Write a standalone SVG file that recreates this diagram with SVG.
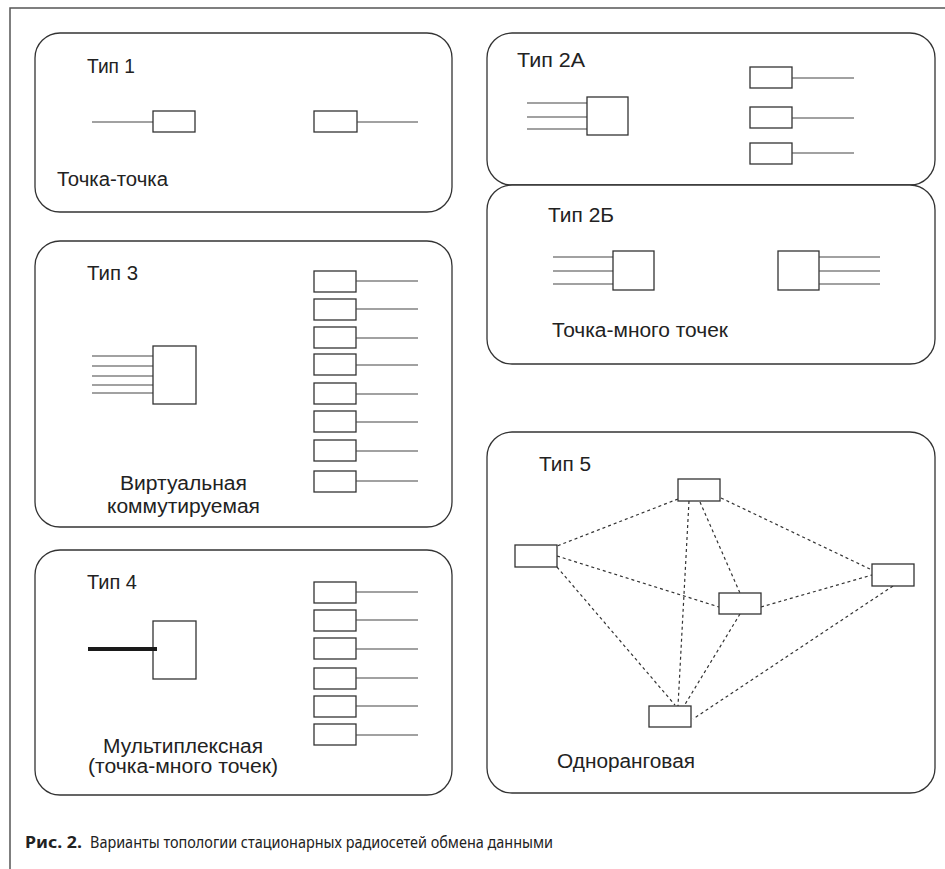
<svg xmlns="http://www.w3.org/2000/svg" width="945" height="869" viewBox="0 0 945 869">
<style>
.frame{fill:none;stroke:#555;stroke-width:1.5}
.panel{fill:#fff;stroke:#333;stroke-width:1.3}
.dev{fill:#fff;stroke:#333;stroke-width:1.3}
.ln{stroke:#444;stroke-width:1.2;fill:none}
.thick{stroke:#1a1a1a;stroke-width:4;fill:none}
.dot{stroke:#333;stroke-width:1.2;stroke-dasharray:3 3;fill:none}
.t{font-family:"Liberation Sans",Arial,sans-serif;font-size:20px;fill:#222}
.cap{font-family:"Noto Sans","Open Sans",sans-serif;font-size:15.5px;fill:#222}
</style>
<rect width="945" height="869" fill="#fff"/>
<path class="frame" d="M945,8 H10 V869"/>

<g id="type1">
<rect class="panel" x="35" y="33" width="417" height="179" rx="25"/>
<text class="t" x="87" y="73" textLength="48" lengthAdjust="spacingAndGlyphs">Тип 1</text>
<line class="ln" x1="92" y1="122" x2="153" y2="122"/>
<rect class="dev" x="153" y="111" width="42" height="21"/>
<rect class="dev" x="314" y="111" width="43" height="21"/>
<line class="ln" x1="357" y1="122" x2="418" y2="122"/>
<text class="t" x="57" y="186" textLength="111" lengthAdjust="spacingAndGlyphs">Точка-точка</text>
</g>

<g id="type2a">
<rect class="panel" x="487" y="33" width="448" height="152" rx="25"/>
<text class="t" x="517" y="67" textLength="68" lengthAdjust="spacingAndGlyphs">Тип 2А</text>
<line class="ln" x1="527" y1="103" x2="587" y2="103"/>
<line class="ln" x1="527" y1="117" x2="587" y2="117"/>
<line class="ln" x1="527" y1="129" x2="587" y2="129"/>
<rect class="dev" x="587" y="97" width="41" height="38"/>
<rect class="dev" x="750" y="67" width="42" height="21"/>
<rect class="dev" x="750" y="107" width="42" height="21"/>
<rect class="dev" x="750" y="143" width="42" height="21"/>
<line class="ln" x1="792" y1="78" x2="854" y2="78"/>
<line class="ln" x1="792" y1="118" x2="854" y2="118"/>
<line class="ln" x1="792" y1="153" x2="854" y2="153"/>
</g>

<g id="type2b">
<rect class="panel" x="487" y="185" width="448" height="179" rx="25"/>
<text class="t" x="548" y="222" textLength="66" lengthAdjust="spacingAndGlyphs">Тип 2Б</text>
<line class="ln" x1="553" y1="257" x2="613" y2="257"/>
<line class="ln" x1="553" y1="271" x2="613" y2="271"/>
<line class="ln" x1="553" y1="284" x2="613" y2="284"/>
<rect class="dev" x="613" y="251" width="41" height="39"/>
<rect class="dev" x="778" y="251" width="41" height="39"/>
<line class="ln" x1="819" y1="257" x2="880" y2="257"/>
<line class="ln" x1="819" y1="271" x2="880" y2="271"/>
<line class="ln" x1="819" y1="284" x2="880" y2="284"/>
<text class="t" x="552" y="337" textLength="176" lengthAdjust="spacingAndGlyphs">Точка-много точек</text>
</g>

<g id="type3">
<rect class="panel" x="35" y="241" width="417" height="286" rx="25"/>
<text class="t" x="87" y="280" textLength="51" lengthAdjust="spacingAndGlyphs">Тип 3</text>
<line class="ln" x1="92" y1="356" x2="153" y2="356"/>
<line class="ln" x1="92" y1="366" x2="153" y2="366"/>
<line class="ln" x1="92" y1="376" x2="153" y2="376"/>
<line class="ln" x1="92" y1="385" x2="153" y2="385"/>
<line class="ln" x1="92" y1="393" x2="153" y2="393"/>
<rect class="dev" x="153" y="346" width="43" height="58"/>
<rect class="dev" x="314" y="271" width="42" height="21"/>
<rect class="dev" x="314" y="299" width="42" height="21"/>
<rect class="dev" x="314" y="327" width="42" height="21"/>
<rect class="dev" x="314" y="354" width="42" height="21"/>
<rect class="dev" x="314" y="383" width="42" height="21"/>
<rect class="dev" x="314" y="411" width="42" height="21"/>
<rect class="dev" x="314" y="440" width="42" height="21"/>
<rect class="dev" x="314" y="471" width="42" height="21"/>
<line class="ln" x1="356" y1="281" x2="418" y2="281"/>
<line class="ln" x1="356" y1="309" x2="418" y2="309"/>
<line class="ln" x1="356" y1="338" x2="418" y2="338"/>
<line class="ln" x1="356" y1="365" x2="418" y2="365"/>
<line class="ln" x1="356" y1="394" x2="418" y2="394"/>
<line class="ln" x1="356" y1="422" x2="418" y2="422"/>
<line class="ln" x1="356" y1="451" x2="418" y2="451"/>
<line class="ln" x1="356" y1="481" x2="418" y2="481"/>
<text class="t" x="120" y="490" textLength="127" lengthAdjust="spacingAndGlyphs">Виртуальная</text>
<text class="t" x="107" y="513" textLength="153" lengthAdjust="spacingAndGlyphs">коммутируемая</text>
</g>

<g id="type4">
<rect class="panel" x="35" y="550" width="417" height="245" rx="25"/>
<text class="t" x="87" y="589" textLength="50" lengthAdjust="spacingAndGlyphs">Тип 4</text>
<rect class="dev" x="153" y="621" width="43" height="58"/>
<line class="thick" x1="88" y1="649" x2="157" y2="649"/>
<rect class="dev" x="314" y="582" width="42" height="21"/>
<rect class="dev" x="314" y="610" width="42" height="21"/>
<rect class="dev" x="314" y="638" width="42" height="21"/>
<rect class="dev" x="314" y="668" width="42" height="21"/>
<rect class="dev" x="314" y="696" width="42" height="21"/>
<rect class="dev" x="314" y="724" width="42" height="21"/>
<line class="ln" x1="356" y1="592" x2="418" y2="592"/>
<line class="ln" x1="356" y1="620" x2="418" y2="620"/>
<line class="ln" x1="356" y1="649" x2="418" y2="649"/>
<line class="ln" x1="356" y1="678" x2="418" y2="678"/>
<line class="ln" x1="356" y1="706" x2="418" y2="706"/>
<line class="ln" x1="356" y1="735" x2="418" y2="735"/>
<text class="t" x="103" y="753" textLength="160" lengthAdjust="spacingAndGlyphs">Мультиплексная</text>
<text class="t" x="88" y="773" textLength="190" lengthAdjust="spacingAndGlyphs">(точка-много точек)</text>
</g>

<g id="type5">
<rect class="panel" x="487" y="432" width="448" height="361" rx="25"/>
<text class="t" x="539" y="471" textLength="52" lengthAdjust="spacingAndGlyphs">Тип 5</text>
<text class="t" x="557" y="768" textLength="138" lengthAdjust="spacingAndGlyphs">Одноранговая</text>
</g>

<g id="connectors">
<line class="dot" x1="678" y1="499" x2="557" y2="546"/>
<line class="dot" x1="689" y1="501" x2="678" y2="706"/>
<line class="dot" x1="700" y1="502" x2="740" y2="593"/>
<line class="dot" x1="721" y1="498" x2="872" y2="570"/>
<line class="dot" x1="557" y1="556" x2="719" y2="607"/>
<line class="dot" x1="557" y1="567" x2="675" y2="705"/>
<line class="dot" x1="740" y1="614" x2="684" y2="706"/>
<line class="dot" x1="761" y1="607" x2="872" y2="575"/>
<line class="dot" x1="893" y1="586" x2="693" y2="719"/>
</g>

<g id="p5-top"><rect class="dev" x="678" y="479" width="42" height="22"/></g>
<g id="p5-left"><rect class="dev" x="515" y="545" width="42" height="22"/></g>
<g id="p5-right"><rect class="dev" x="872" y="564" width="42" height="22"/></g>
<g id="p5-mid"><rect class="dev" x="719" y="593" width="42" height="21"/></g>
<g id="p5-bottom"><rect class="dev" x="649" y="706" width="42" height="21"/></g>

<g id="caption">
<text class="cap" x="25" y="848" font-weight="bold" textLength="57" lengthAdjust="spacingAndGlyphs">Рис. 2.</text>
<text class="cap" x="90" y="848" textLength="463" lengthAdjust="spacingAndGlyphs">Варианты топологии стационарных радиосетей обмена данными</text>
</g>
</svg>
